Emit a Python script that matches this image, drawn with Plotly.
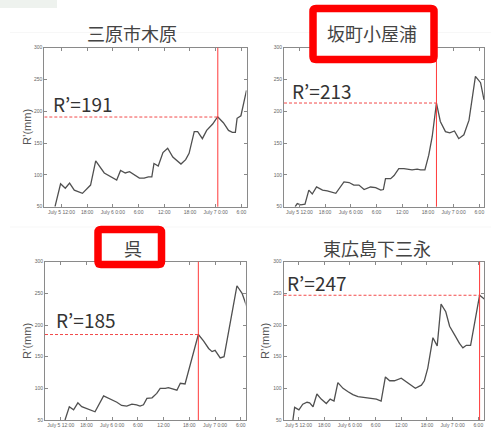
import plotly.graph_objects as go

W, H = 491, 429

# Station names (panel titles)
stations = ["三原市木原", "坂町小屋浦", "呉", "東広島下三永"]

# Hours counted from July 5 0:00 and the accumulated rainfall index R' (mm)
t_mihara = [10.5, 11.8, 12.9, 13.9, 15.0, 16.9, 18.8, 20.0, 22.0, 24.9, 25.8, 26.9,
            27.9, 29.6, 30.2, 31.3, 32.3, 33.1, 33.6, 34.6, 35.7, 36.8, 38.0, 39.9,
            41.0, 41.8, 43.0, 43.8, 44.9, 45.9, 47.3, 48.2, 48.5, 49.8, 51.0, 51.9,
            52.6, 53.0, 53.9, 55.2]
r_mihara = [50, 86, 79, 87, 76, 71, 84, 122, 103, 92, 107, 103,
            105, 98, 95, 95, 97, 97, 118, 114, 135, 142, 128, 117,
            124, 134, 168, 168, 157, 170, 180, 189, 191, 182, 170, 167,
            167, 189, 193, 233]

t_saka = [11.0, 11.5, 12.3, 13.3, 14.2, 15.0, 16.0, 17.4, 18.5, 20.5, 22.4, 23.6,
          24.7, 25.9, 27.1, 28.6, 29.8, 31.0, 31.6, 32.1, 33.3, 34.1, 35.2, 36.4,
          38.3, 39.5, 40.3, 41.3, 42.2, 43.0, 44.0, 44.9, 46.1, 47.1, 48.2, 49.2,
          50.4, 51.6, 53.1, 54.3, 55.1]
r_saka = [50, 55, 53, 54, 76, 70, 81, 76, 75, 71, 89, 88,
          84, 84, 77, 81, 80, 76, 77, 94, 94, 99, 110, 110,
          108, 109, 108, 108, 131, 160, 213, 184, 168, 166, 169, 157,
          163, 186, 255, 245, 218]

t_kure = [13.0, 14.0, 15.0, 16.0, 16.9, 18.5, 20.0, 22.0, 23.9, 25.1, 26.2, 27.4,
          28.6, 29.7, 30.5, 31.3, 32.1, 33.3, 34.4, 35.2, 36.4, 37.1, 39.1, 39.9,
          41.0, 44.1, 45.3, 46.5, 47.3, 48.0, 49.2, 50.1, 53.1, 54.3, 55.8]
r_kure = [50, 71, 66, 77, 71, 67, 63, 88, 82, 78, 73, 72,
          75, 74, 72, 74, 84, 85, 92, 100, 100, 101, 97, 108,
          107, 185, 175, 163, 158, 160, 148, 150, 262, 250, 221]

t_higashi = [10.7, 11.1, 12.1, 13.0, 14.0, 14.6, 15.4, 16.3, 17.3, 18.5, 19.4, 20.3,
             21.2, 22.4, 23.5, 24.7, 25.9, 27.0, 28.2, 29.3, 30.2, 31.3, 32.3, 33.3,
             34.4, 36.0, 37.2, 38.3, 39.3, 40.7, 41.4, 42.2, 43.4, 44.4, 45.3, 46.4,
             47.3, 48.5, 49.6, 50.4, 51.2, 52.2, 53.0, 54.3, 55.4]
r_higashi = [50, 70, 66, 75, 78, 77, 71, 91, 83, 76, 83, 80,
             109, 100, 95, 90, 87, 86, 84, 84, 83, 80, 118, 112,
             112, 116, 110, 105, 100, 105, 112, 132, 180, 167, 233, 221,
             198, 184, 171, 164, 168, 168, 197, 247, 241]

# Time of the maximum and its R' value for each station
peak_time = [48.5, 44.0, 44.1, 54.3]
peak_value = [191, 213, 185, 247]

tick_hours = [12, 18, 24, 30, 36, 42, 48, 54]
tick_labels = ["July 5 12:00", "18:00", "July 6 0:00", "6:00",
               "12:00", "18:00", "July 7 0:00", "6:00"]
y_ticks = [50, 100, 150, 200, 250, 300]

series = [(t_mihara, r_mihara), (t_saka, r_saka), (t_kure, r_kure), (t_higashi, r_higashi)]

# Panel boxes in pixels (left, right, top, bottom) and the time span of each x axis
panels = [
    dict(x0=44.3, x1=246.5, y0=47.7, y1=206.7, xr=(8.0, 55.2)),
    dict(x0=284.0, x1=484.0, y0=47.7, y1=206.7, xr=(8.4, 55.1)),
    dict(x0=45.0, x1=245.5, y0=261.7, y1=420.0, xr=(8.33, 55.1)),
    dict(x0=283.5, x1=484.3, y0=261.7, y1=420.0, xr=(8.5, 55.4)),
]
title_pos = [(132, 33.5), (371.5, 33.5), (133.3, 248.3), (376.7, 248.3)]
label_pos = [(83.3, 103.3), (322.2, 90.0), (86.2, 319.0), (317.2, 282.7)]
ylabel_pos = [(27, 127), None, (27, 341), (265, 341)]
red_boxes = [None, (313, 8.5, 434, 59.5), (98, 229.5, 161.5, 264.5), None]


def px(x):
    return x / W


def py(y):
    return 1 - y / H


def rounded_rect(x0, y0, x1, y1, r):
    pts = [
        f"M {px(x0 + r)},{py(y0)}", f"L {px(x1 - r)},{py(y0)}",
        f"Q {px(x1)},{py(y0)} {px(x1)},{py(y0 + r)}", f"L {px(x1)},{py(y1 - r)}",
        f"Q {px(x1)},{py(y1)} {px(x1 - r)},{py(y1)}", f"L {px(x0 + r)},{py(y1)}",
        f"Q {px(x0)},{py(y1)} {px(x0)},{py(y1 - r)}", f"L {px(x0)},{py(y0 + r)}",
        f"Q {px(x0)},{py(y0)} {px(x0 + r)},{py(y0)}", "Z",
    ]
    return " ".join(pts)


AXIS_COLOR = "#8a8a8a"
TICK_FONT = dict(family="Liberation Sans, Arial, sans-serif", size=5, color="#666666")

fig = go.Figure()
layout = dict(
    width=W, height=H,
    margin=dict(l=0, r=0, t=0, b=0),
    paper_bgcolor="white", plot_bgcolor="white",
    showlegend=False,
    shapes=[], annotations=[],
)

# faint page marks around the panels
layout["shapes"] += [
    dict(type="rect", xref="paper", yref="paper", x0=0, x1=px(57), y0=py(8), y1=1,
         line=dict(width=0), fillcolor="#eef2ee", layer="below"),
    dict(type="line", xref="paper", yref="paper", x0=px(10), x1=1, y0=py(32.5), y1=py(32.5),
         line=dict(color="#f7f7f7", width=1), layer="below"),
    dict(type="line", xref="paper", yref="paper", x0=px(10), x1=1, y0=py(227), y1=py(227),
         line=dict(color="#f7f7f7", width=1), layer="below"),
]

for i, ((t, r), p) in enumerate(zip(series, panels), start=1):
    key = "" if i == 1 else str(i)
    xa, ya = "x" + key, "y" + key
    fig.add_trace(go.Scatter(
        x=t, y=r, mode="lines", xaxis=xa, yaxis=ya,
        line=dict(color="#505050", width=1.3), hoverinfo="x+y",
    ))
    common = dict(
        showline=True, linecolor=AXIS_COLOR, linewidth=1, mirror="ticks",
        ticks="inside", ticklen=3, tickwidth=1, tickcolor=AXIS_COLOR,
        tickfont=TICK_FONT, showgrid=False, zeroline=False, automargin=False,
        fixedrange=True,
    )
    layout["xaxis" + key] = dict(
        common, domain=[px(p["x0"]), px(p["x1"])], range=list(p["xr"]),
        anchor=ya, tickmode="array", tickvals=tick_hours, ticktext=tick_labels,
    )
    layout["yaxis" + key] = dict(
        common, domain=[py(p["y1"]), py(p["y0"])], range=[50, 300],
        anchor=xa, tickmode="array", tickvals=y_ticks,
    )

    pt, pv = peak_time[i - 1], peak_value[i - 1]
    # time of the maximum
    layout["shapes"].append(dict(
        type="line", xref=xa, yref=f"{ya} domain", x0=pt, x1=pt, y0=0, y1=1,
        line=dict(color="#ff3a3a", width=1), layer="above"))
    # level of the maximum
    layout["shapes"].append(dict(
        type="line", xref=xa, yref=ya, x0=p["xr"][0], x1=pt, y0=pv, y1=pv,
        line=dict(color="#f24a4a", width=1, dash="3px,2px"), layer="above"))

    box = red_boxes[i - 1]
    if box:
        layout["shapes"].append(dict(
            type="path", xref="paper", yref="paper", path=rounded_rect(*box, 3),
            fillcolor="white", line=dict(color="#ff0000", width=7.5), layer="above"))

    tx, ty = title_pos[i - 1]
    layout["annotations"].append(dict(
        xref="paper", yref="paper", x=px(tx), y=py(ty), xanchor="center", yanchor="middle",
        text=stations[i - 1], showarrow=False,
        font=dict(family="Noto Sans CJK JP", size=18, color="#444444")))

    lx, ly = label_pos[i - 1]
    layout["annotations"].append(dict(
        xref="paper", yref="paper", x=px(lx), y=py(ly), xanchor="center", yanchor="middle",
        text=f"R’={pv}", showarrow=False,
        font=dict(family="Noto Sans CJK JP", size=19, color="#333333")))

    if ylabel_pos[i - 1]:
        yx, yy = ylabel_pos[i - 1]
        layout["annotations"].append(dict(
            xref="paper", yref="paper", x=px(yx), y=py(yy), xanchor="center", yanchor="middle",
            text="R’(mm)", textangle=-90, showarrow=False,
            font=dict(family="Liberation Sans, Arial, sans-serif", size=11, color="#555555")))

fig.update_layout(**layout)
fig.write_html("out.html")
